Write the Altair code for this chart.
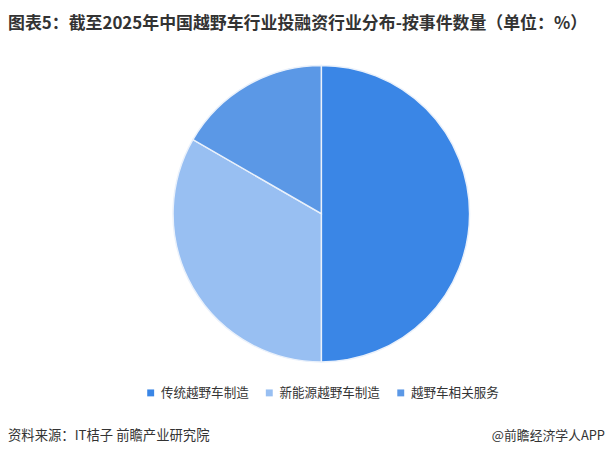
import altair as alt
import pandas as pd

categories = ["传统越野车制造", "新能源越野车制造", "越野车相关服务"]
values = [50.0, 33.33, 16.67]
colors = ["#3A86E6", "#98BFF2", "#5B98E6"]
title_text = "图表5：截至2025年中国越野车行业投融资行业分布-按事件数量（单位：%）"
source_text = "资料来源：IT桔子  前瞻产业研究院"
brand_text = "@前瞻经济学人APP"

FONT = "Noto Sans CJK SC"

df = pd.DataFrame({"cat": categories, "val": values, "idx": list(range(len(categories)))})

pie = alt.Chart(df).mark_arc(
    radius=150, stroke="#eaf1fb", strokeWidth=1.5
).encode(
    theta=alt.Theta("val:Q", stack=True),
    color=alt.Color(
        "cat:N",
        scale=alt.Scale(domain=categories, range=colors),
        legend=alt.Legend(
            title=None, orient="none", direction="horizontal",
            legendX=138, legendY=380,
            symbolType="square", symbolSize=49, symbolStrokeWidth=0,
            labelFont=FONT, labelFontSize=12.7, labelColor="#333333",
            labelOffset=4, columnPadding=14, labelLimit=200,
        ),
    ),
    order=alt.Order("idx:Q"),
    x=alt.value(317),
    y=alt.value(205.5),
)

title = alt.Chart(pd.DataFrame({"t": [title_text]})).mark_text(
    align="left", baseline="middle", font=FONT, fontSize=17.1, fontWeight="bold", color="#333333"
).encode(text="t:N", x=alt.value(0), y=alt.value(14))

source = alt.Chart(pd.DataFrame({"t": [source_text]})).mark_text(
    align="left", baseline="middle", font=FONT, fontSize=13.5, color="#333333"
).encode(text="t:N", x=alt.value(0), y=alt.value(430))

brand = alt.Chart(pd.DataFrame({"t": [brand_text]})).mark_text(
    align="right", baseline="middle", font=FONT, fontSize=13, color="#333333"
).encode(text="t:N", x=alt.value(604), y=alt.value(430))

chart = alt.layer(pie, title, source, brand).properties(
    width=604, height=443, padding=0, autosize=alt.AutoSizeParams(type="none"),
    background="white",
).configure_view(stroke=None)

chart.save("out.html", embed_options={"renderer": "svg", "actions": False})
